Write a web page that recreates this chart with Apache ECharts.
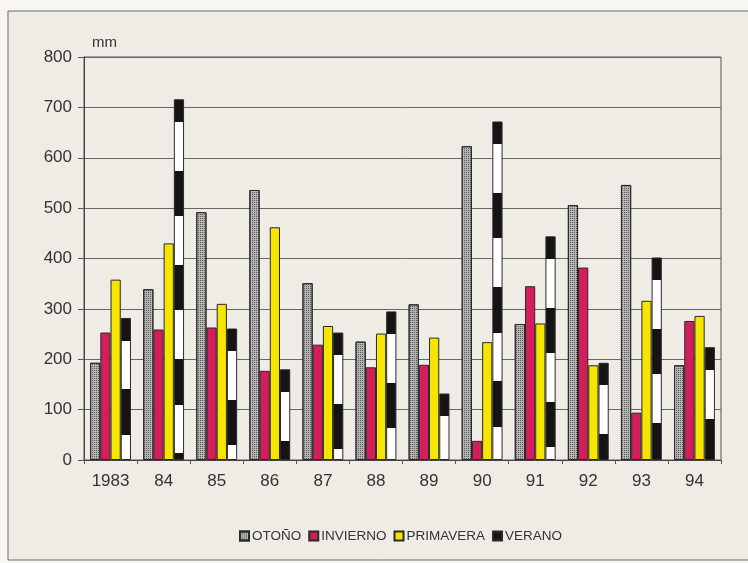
<!DOCTYPE html>
<html>
<head>
<meta charset="utf-8">
<script src="https://cdn.jsdelivr.net/npm/echarts@6/dist/echarts.min.js"></script>
<style>html,body{margin:0;padding:0;background:#f7f6f2;}#c{width:748px;height:563px;}</style>
</head>
<body>
<div id="c"></div>
<script>
const categories = ['1983','84','85','86','87','88','89','90','91','92','93','94'];
const seriesNames = ['OTOÑO','INVIERNO','PRIMAVERA','VERANO'];
const otono     = [193,339,492,536,351,235,309,623,270,506,546,188];
const invierno  = [253,259,263,177,229,184,189, 38,345,382, 94,276];
const primavera = [358,430,310,462,266,251,243,234,271,188,316,286];
const verano    = [282,716,261,180,253,295,132,672,444,193,402,224];
const yMin = 0, yMax = 800, yStep = 100;

const chart = echarts.init(document.getElementById('c'), null, {renderer:'canvas'});
const FONT = "'Liberation Sans', Arial, Helvetica, sans-serif";
const TXT = '#333333';

// black/white banded fill anchored at bar top (style only)
function stripes(v){
  const stops = [];
  let d = 0, black = true, len = 45;
  while (d < v) {
    const end = Math.min(d + len, v);
    const c = black ? '#141414' : '#ffffff';
    stops.push({offset: d / v, color: c}, {offset: end / v, color: c});
    d = end; black = !black; len = black ? 90 : 97;
  }
  return new echarts.graphic.LinearGradient(0, 0, 0, 1, stops);
}

const border = {borderColor:'#2a2a2a', borderWidth:1};
const option = {
  backgroundColor:'#f7f6f2',
  animation:false,
  textStyle:{fontFamily:FONT},
  graphic:[{type:'rect', silent:true, z:-10, shape:{x:8,y:11,width:800,height:549},
            style:{fill:'#efece6', stroke:'#6a6a6a', lineWidth:1}}],
  grid:{left:84, right:27, top:57, bottom:103, show:true, borderColor:'#555', borderWidth:1, backgroundColor:'transparent'},
  legend:{
    top:524, left:234, icon:'rect', itemWidth:9, itemHeight:9, itemGap:7,
    textStyle:{fontFamily:FONT, fontSize:13.5, color:TXT, padding:[0,0,0,-2]},
    data:[
      {name:'OTOÑO'},
      {name:'INVIERNO'},
      {name:'PRIMAVERA'},
      {name:'VERANO', itemStyle:{color:'#141414'}}
    ]
  },
  xAxis:{
    type:'category', data:categories,
    axisLine:{lineStyle:{color:'#444', width:1}},
    axisTick:{show:true, length:4, lineStyle:{color:'#555'}},
    axisLabel:{fontFamily:FONT, fontSize:17, color:TXT, margin:13}
  },
  yAxis:{
    type:'value', min:yMin, max:yMax, interval:yStep,
    name:'mm', nameLocation:'end', nameGap:7,
    nameTextStyle:{fontFamily:FONT, fontSize:15, color:TXT, align:'left', padding:[0,0,0,8]},
    axisLine:{show:true, lineStyle:{color:'#444', width:1}},
    axisTick:{show:true, length:6, lineStyle:{color:'#555'}},
    axisLabel:{fontFamily:FONT, fontSize:17, color:TXT, margin:12},
    splitLine:{lineStyle:{color:'#666', width:1}}
  },
  series:[
    {name:'OTOÑO', type:'bar', data:otono, barGap:'0%', barCategoryGap:'23%',
     itemStyle:Object.assign({color:'#b4b4b4',
       decal:{symbol:'rect', symbolSize:1, color:'#5a5a5a', dashArrayX:[1,1], dashArrayY:[1,1]}}, border)},
    {name:'INVIERNO', type:'bar', data:invierno, barGap:'0%', barCategoryGap:'23%',
     itemStyle:Object.assign({color:'#d21f5b'}, border)},
    {name:'PRIMAVERA', type:'bar', data:primavera, barGap:'0%', barCategoryGap:'23%',
     itemStyle:Object.assign({color:'#f6e500'}, border)},
    {name:'VERANO', type:'bar', barGap:'0%', barCategoryGap:'23%',
     data:verano.map(v => ({value:v, itemStyle:{color:stripes(v)}})),
     itemStyle:Object.assign({color:'#141414'}, border)}
  ]
};
chart.setOption(option);
</script>
</body>
</html>
